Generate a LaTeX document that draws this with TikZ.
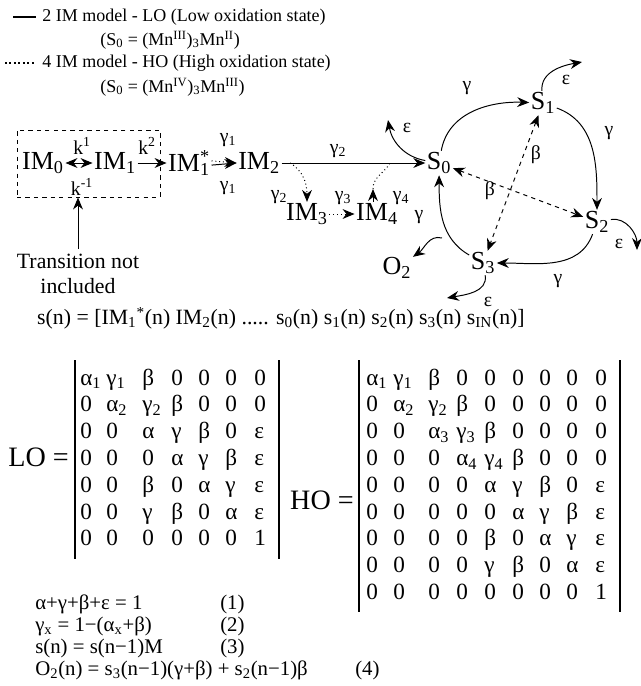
\documentclass[tikz,border=0pt]{standalone}
\usepackage{fontspec}
\setmainfont{Liberation Serif}
\usepackage{tikz}
\usetikzlibrary{arrows.meta, fit}
\tikzstyle{arrow} = [->, >={Stealth[length=8.5pt,width=7pt]}, line width=0.7pt]
\tikzstyle{big} = [inner sep=1pt, font=\fontsize{18.5}{20}\selectfont]
\tikzstyle{rate} = [inner sep=0.5pt, font=\fontsize{14}{16}\selectfont]
\tikzstyle{legtext} = [inner sep=0pt, anchor=west, font=\fontsize{12.8}{15}\selectfont]
\tikzstyle{cell} = [inner sep=0pt, anchor=base west, font=\fontsize{16.5}{18}\selectfont]
\tikzstyle{eqn} = [inner sep=0pt, anchor=base west, font=\fontsize{14.8}{16}\selectfont]
\tikzstyle{bar} = [line width=1.4pt]

\begin{document}
\begin{tikzpicture}[x=0.025cm, y=0.025cm, node distance=2cm]
  \useasboundingbox (0,0) rectangle (640,-686);

  % legend
  \draw[line width=1.2pt] (13,-17) -- (36,-17);
  \node (legLO) [legtext] at (42,-17) {2 IM model - LO (Low oxidation state)};
  \node (legLOs) [legtext] at (100,-40) {(S\textsubscript{0} = (Mn\textsuperscript{III})\textsubscript{3}Mn\textsuperscript{II})};
  \draw[line width=1.2pt, dotted] (5,-63) -- (36,-63);
  \node (legHO) [legtext] at (42,-63) {4 IM model - HO (High oxidation state)};
  \node (legHOs) [legtext] at (100,-87) {(S\textsubscript{0} = (Mn\textsuperscript{IV})\textsubscript{3}Mn\textsuperscript{III})};

  % intermediates
  \node (IM0) [big] at (43,-163) {IM\textsubscript{0}};
  \node (IM1) [big, right of=IM0, node distance=1.8cm] {IM\textsubscript{1}};
  \node (IM1s) [big, right of=IM1, node distance=1.85cm] {IM\rlap{\textsubscript{1}}\textsuperscript{*}};
  \node (IM2) [big, right of=IM1s, node distance=1.75cm] {IM\textsubscript{2}};
  \node (S0) [big, right of=IM2, node distance=4.5cm] {S\textsubscript{0}};
  \node (IM3) [big] at (307,-214) {IM\textsubscript{3}};
  \node (IM4) [big, right of=IM3, node distance=1.75cm] {IM\textsubscript{4}};

  \node (box) [draw, dashed, line width=0.7pt, inner sep=0, fit={(17,-130) (160,-197)}] {};
  \node (trans) [align=center, font=\fontsize{15.5}{17.8}\selectfont] at (78,-274) {Transition not\\included};
  \draw[arrow] (trans.north) -- (trans.north |- box.south);

  \node (k1) [rate] at (82,-146) {k\textsuperscript{1}};
  \node (km1) [rate] at (82,-187) {k\textsuperscript{-1}};
  \node (k2) [rate] at (147,-146) {k\textsuperscript{2}};
  \draw[arrow, <->] (IM0) -- (IM1);
  \draw[arrow] (IM1) -- (IM1s);

  \draw[arrow] ([yshift=-1.5pt]IM1s.east) -- (IM2.west);
  \draw[arrow, dotted] ([yshift=1.5pt]IM1s.east) -- (IM2.west);
  \node (g1a) [rate] at (228,-140) {γ\textsubscript{1}};
  \node (g1b) [rate] at (228,-188) {γ\textsubscript{1}};

  \draw[arrow] (IM2) -- (S0);
  \node (g2) [rate] at (338,-151) {γ\textsubscript{2}};

  \coordinate (d2) at (290,-163);
  \draw[arrow, dotted] (d2) to[out=-30, in=90] (IM3.north);
  \node (g2b) [rate] at (279,-197) {γ\textsubscript{2}};
  \draw[arrow, dotted] (IM3) -- (IM4);
  \node (g3) [rate] at (343,-198) {γ\textsubscript{3}};
  \coordinate (d4) at (390,-163);
  \coordinate (g4tip) at (373,-189);
  \draw[line width=0.7pt, dotted] (g4tip) to[out=90, in=-120] (d4);
  \draw[arrow] (g4tip |- IM4.north) -- (g4tip);
  \node (g4) [rate] at (401,-198) {γ\textsubscript{4}};

  % S-state cycle
  \node (S1) [big] at (543,-103) {S\textsubscript{1}};
  \node (S2) [big] at (597,-222) {S\textsubscript{2}};
  \node (S3) [big] at (483,-263) {S\textsubscript{3}};
  \node (O2) [big] at (397,-268) {O\textsubscript{2}};

  \draw[arrow] (S0) to[out=80, in=178] (S1);
  \node (gS01) [rate] at (467,-88) {γ};
  \draw[arrow] (S1) to[out=-20, in=90] (S2);
  \node (gS12) [rate] at (609,-133) {γ};
  \draw[arrow] (S2) to[out=-110, in=0] (S3);
  \node (gS23) [rate] at (558,-281) {γ};
  \draw[arrow] (S3) to[out=150, in=-90] (S0);
  \node (gS30) [rate] at (419,-217) {γ};
  \coordinate (o2src) at (442,-238);
  \draw[arrow] (o2src) to[out=165, in=35] (O2);

  \draw[arrow, dashed, <->] (S1) -- (S3);
  \draw[arrow, dashed, <->] (S0) -- (S2);
  \node (b13) [rate] at (536,-155) {β};
  \node (b02) [rate] at (490,-191) {β};

  \coordinate (e0) at (388,-120);
  \draw[arrow] (S0) to[out=170, in=-80] (e0);
  \node (eps0) [rate] at (407,-128) {ε};
  \coordinate (e1) at (582,-62);
  \draw[arrow] (S1) to[out=95, in=190] (e1);
  \node (eps1) [rate] at (566,-80) {ε};
  \coordinate (e2) at (637,-250);
  \draw[arrow] (S2) to[out=10, in=90] (e2);
  \node (eps2) [rate] at (619,-244) {ε};
  \coordinate (e3) at (447,-298);
  \draw[arrow] (S3) to[out=-80, in=10] (e3);
  \node (eps3) [rate] at (488,-302) {ε};

  % state vector
  \node (svec) [font=\fontsize{15.5}{18}\selectfont] at (281,-318) {s(n) = [IM\textsubscript{1}\textsuperscript{*}(n) IM\textsubscript{2}(n) ..... s\textsubscript{0}(n) s\textsubscript{1}(n) s\textsubscript{2}(n) s\textsubscript{3}(n) s\textsubscript{IN}(n)]};

  % LO matrix
  \node (LO) [anchor=east, inner sep=0, font=\fontsize{20}{22}\selectfont] at (69,-457) {LO =};
  \draw[bar] (75,-360) -- (75,-559);
  \draw[bar] (279,-360) -- (279,-559);
  \foreach \row [count=\r] in {
      {α\textsubscript{1},γ\textsubscript{1},β,0,0,0,0},
      {0,α\textsubscript{2},γ\textsubscript{2},β,0,0,0},
      {0,0,α,γ,β,0,ε},
      {0,0,0,α,γ,β,ε},
      {0,0,β,0,α,γ,ε},
      {0,0,γ,β,0,α,ε},
      {0,0,0,0,0,0,1}}
    \foreach \e [count=\c] in \row {
      \pgfmathsetmacro\xx{{80,106,142,171,198,225,254}[\c-1]}
      \node (LO-\r-\c) [cell] at (\xx,{-385-26.8*(\r-1)}) {\e};
    }

  % HO matrix
  \node (HO) [anchor=east, inner sep=0, font=\fontsize{20}{22}\selectfont] at (354,-500) {HO =};
  \draw[bar] (359,-360) -- (359,-612);
  \draw[bar] (620,-360) -- (620,-612);
  \foreach \row [count=\r] in {
      {α\textsubscript{1},γ\textsubscript{1},β,0,0,0,0,0,0},
      {0,α\textsubscript{2},γ\textsubscript{2},β,0,0,0,0,0},
      {0,0,α\textsubscript{3},γ\textsubscript{3},β,0,0,0,0},
      {0,0,0,α\textsubscript{4},γ\textsubscript{4},β,0,0,0},
      {0,0,0,0,α,γ,β,0,ε},
      {0,0,0,0,0,α,γ,β,ε},
      {0,0,0,0,β,0,α,γ,ε},
      {0,0,0,0,γ,β,0,α,ε},
      {0,0,0,0,0,0,0,0,1}}
    \foreach \e [count=\c] in \row {
      \pgfmathsetmacro\xx{{366,393,428,456,484,512,539,566,595}[\c-1]}
      \node (HO-\r-\c) [cell] at (\xx,{-385-26.8*(\r-1)}) {\e};
    }

  % equations
  \node (eq1) [eqn] at (35,-609) {α+γ+β+ε = 1};
  \node (eq2) [eqn] at (35,-631) {γ\textsubscript{x} = 1−(α\textsubscript{x}+β)};
  \node (eq3) [eqn] at (35,-653) {s(n) = s(n−1)M};
  \node (eq4) [eqn] at (35,-675) {O\textsubscript{2}(n) = s\textsubscript{3}(n−1)(γ+β) + s\textsubscript{2}(n−1)β};
  \node (n1) [eqn] at (220,-609) {(1)};
  \node (n2) [eqn] at (220,-631) {(2)};
  \node (n3) [eqn] at (220,-653) {(3)};
  \node (n4) [eqn] at (355,-675) {(4)};
\end{tikzpicture}
\end{document}
